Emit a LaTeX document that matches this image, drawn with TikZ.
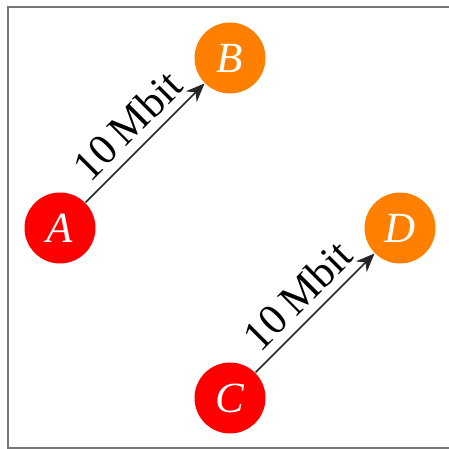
\documentclass[tikz,border=0pt]{standalone}
\usepackage{fontspec}
\setmainfont{Liberation Serif}
\usetikzlibrary{arrows.meta}
\definecolor{NWred}{RGB}{255,0,0}
\definecolor{NWorange}{RGB}{255,128,0}
\definecolor{NWframe}{RGB}{120,120,120}
\tikzset{
  sender/.style={circle,fill=NWred,text=white,minimum size=0.835cm,inner sep=0pt,
                 font=\Large\itshape},
  receiver/.style={circle,fill=NWorange,text=white,minimum size=0.835cm,inner sep=0pt,
                   font=\Large\itshape},
  link/.style={-{Stealth[length=2.2mm,width=1.8mm]},line width=0.5pt,draw=black!85},
  rate/.style={midway,sloped,above,font=\Large,inner sep=3pt},
}
\begin{document}
\begin{tikzpicture}
    \useasboundingbox (-0.706,-2.6) rectangle (4.565,2.682);
    % frame, open to the right
    \draw[NWframe,line width=0.6pt] (4.9,2.6) -- (-0.612,2.6) -- (-0.612,-2.588) -- (4.9,-2.588);
    \node[sender] (A) at (0,0) {A};
    \node[receiver] (B) at (2,2) {B};
    \node[sender] (C) at (2,-2) {C};
    \node[receiver] (D) at (4,0) {D};
    \draw[link] (A) -- node[rate] {10\,Mbit} (B);
    \draw[link] (C) -- node[rate] {10\,Mbit} (D);
\end{tikzpicture}
\end{document}
